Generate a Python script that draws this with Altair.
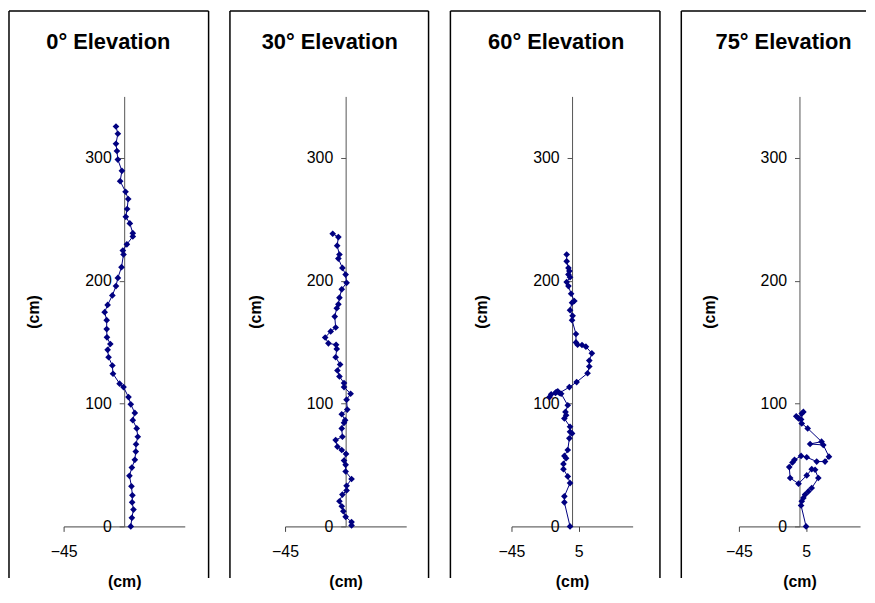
import altair as alt
import pandas as pd

TITLES = ["0° Elevation", "30° Elevation", "60° Elevation", "75° Elevation"]
X_TICKS = [[-45], [-45], [-45, 5], [-45, 5]]
Y_TICKS = [0, 100, 200, 300]

# horizontal offset (cm), height (cm) - ordered from bottom to top
P1_X = [4.9, 5.7, 6.9, 5.9, 6.1, 5.4, 3.9, 5.7, 7.9, 8.6, 8.8, 10.1, 9.3, 6.4, 7.9, 4.9, 3.2, -0.5, -3.4, -8.3,
        -8.8, -11.6, -12.3, -10.3, -12.8, -13.0, -13.0, -14.5, -12.3, -8.8, -6.1, -4.7, -2.0, -0.5, -1.0, 2.0,
        6.4, 6.4, 4.2, 1.2, 2.2, 3.0, 1.0, -3.0, -1.7, -4.7, -5.4, -6.1, -4.7, -6.1]
P1_Y = [0, 7, 13.7, 19.6, 25.3, 32.6, 41.2, 47.9, 54.2, 60.9, 66.9, 73, 79.8, 86.5, 92.4, 99.4, 105.3, 113.4,
        116.2, 124.3, 131, 137.7, 143.7, 148.5, 153.9, 160.6, 167.9, 174.4, 180.3, 188, 195.6, 202.3, 211,
        221.3, 224.5, 229.6, 236, 238.7, 246.6, 252, 258.4, 266.5, 272.4, 281, 289.4, 298.6, 305.6, 311.5,
        319.6, 325.5]

P2_X = [4.4, 4.4, 0.0, -1.7, -2.9, -4.6, -2.4, 0.7, 0.7, 4.4, 0.0, 0.0, -1.2, 0.3, -2.9, -6.1, -7.4, -2.4,
        -2.9, -1.2, -0.4, -2.9, 1.2, 0.7, 3.7, -1.2, -1.2, -4.6, -6.1, -4.1, -7.4, -6.6, -7.1, -12.8, -15.2,
        -11.1, -7.4, -8.1, -6.6, -5.4, -4.6, -2.9, 0.7, 0.0, -2.4, -5.4, -4.6, -6.3, -5.4, -9.6]
P2_Y = [0.8, 3.5, 7.8, 12.4, 16.4, 20.5, 25.9, 29.3, 33.1, 38.6, 44.7, 50.1, 53.6, 59, 62.2, 64.9, 70.3, 73,
        79.8, 84.3, 86.5, 91.3, 95.1, 103.2, 108, 113.4, 116.7, 122.1, 126.9, 131.8, 137.7, 144.5, 147.9, 149,
        153.8, 158.7, 161.9, 170.8, 177.6, 180.8, 186.2, 193, 198.3, 205, 210.4, 218, 221.3, 228.5, 235.5,
        238.2]

P3_X = [-1.5, -5.7, -5.7, -1.5, -3.2, -6.4, -6.4, -4.4, -5.7, -3.2, -2.0, 0.0, -1.5, -1.5, -5.7, -4.4, -4.9,
        -3.2, -8.1, -10.6, -12.3, -16.7, -15.5, -11.8, -9.4, -2.0, 3.4, 11.5, 12.8, 12.8, 14.7, 10.3, 7.4, 4.1,
        2.9, 2.9, 0.0, 0.4, -1.5, 0.0, 1.7, -0.7, -2.7, -4.0, -1.5, -2.7, -2.0, -2.7, -4.0, -4.0]
P3_Y = [0, 19.6, 24.5, 35.3, 40.7, 46.6, 50.9, 55.5, 57.4, 62.2, 71.7, 75.7, 77, 81.1, 87.9, 90.5, 93.2, 98.6,
        108, 109.9, 108.6, 105.3, 107.5, 109.4, 108.6, 113.4, 117.5, 124.7, 130.2, 135, 140.9, 146.3, 147.7,
        147.9, 149.8, 156.6, 167.9, 171.4, 176, 182.1, 183.5, 189.4, 195.6, 198.9, 202.9, 205.1, 207.8, 210.4,
        215.8, 221.3]

P4_X = [4.9, 1.2, 1.7, 2.9, 4.2, 6.6, 9.1, 14.0, 11.6, 9.1, 5.4, -0.7, -6.9, -7.6, -5.2, -3.7, 1.2, 5.4, 12.8,
        19.0, 21.9, 17.7, 7.9, 16.4, 6.1, 1.7, 1.2, 2.9, 1.7, -0.7, -2.4]
P4_Y = [0, 17, 20.5, 23.2, 25.9, 28.5, 31.3, 39.4, 46.1, 46.6, 41.5, 34.8, 39.4, 48.3, 52.0, 54.2, 57.4, 56.3,
        52.8, 52.8, 56.8, 66.3, 67.1, 69.0, 79.8, 83.8, 87.1, 93.2, 91.9, 87.9, 89.7]

XS = [P1_X, P2_X, P3_X, P4_X]
YS = [P1_Y, P2_Y, P3_Y, P4_Y]

NAVY = "#000080"
FONT = "Liberation Sans"
W, H = 122, 433
AXIS_PX = 61           # pixel position of x=0 inside the plot
FRAME_L = [-55, -55.5, -61.5, -58]
FRAME_R = [146, 144.5, 149.5, None]
LAST_TOP_END = 128
FRAME_TOP, FRAME_BOT = -86, 485


def panel(i):
    df = pd.DataFrame({"x": XS[i], "y": YS[i], "i": list(range(len(XS[i])))})
    x_enc = alt.X("x:Q", scale=alt.Scale(domain=[-45, 45], nice=False, zero=False),
                  axis=alt.Axis(values=X_TICKS[i], tickSize=5, labelPadding=12, labelFontSize=16,
                                labelFont=FONT, labelColor="black", labelFlush=False, labelOverlap=False,
                                domainColor="#444", tickColor="#444", grid=False,
                                title="(cm)", titleFont=FONT, titleFontSize=16, titleFontWeight="bold",
                                titleColor="black", titleY=56, titleBaseline="middle"))
    y_enc = alt.Y("y:Q", scale=alt.Scale(domain=[0, 350], nice=False),
                  axis=alt.Axis(values=Y_TICKS, offset=-AXIS_PX, tickSize=5, labelPadding=8,
                                labelFontSize=16, labelFont=FONT, labelColor="black", labelFlush=False,
                                labelOverlap=False, domainColor="#555", tickColor="#555", grid=False,
                                title="(cm)", titleFont=FONT, titleFontSize=16, titleFontWeight="bold",
                                titleColor="black", titleX=-91, titleY=H / 2, titleAngle=-90,
                                titleBaseline="middle", titleAlign="center"))
    base = alt.Chart(df)
    line = base.mark_line(color=NAVY, strokeWidth=1).encode(x=x_enc, y=y_enc, order="i:Q")
    pts = base.mark_point(shape="diamond", filled=True, size=45, color=NAVY, opacity=1).encode(x=x_enc, y=y_enc)

    tdf = pd.DataFrame({"t": [TITLES[i]]})
    tb = alt.Chart(tdf)
    title = tb.mark_text(font=FONT, fontSize=22, fontWeight="bold", color="black",
                         baseline="alphabetic", align="center").encode(
        text="t:N", x=alt.value(45), y=alt.value(-48))
    L = FRAME_L[i]
    R = FRAME_R[i]
    frame = [
        tb.mark_rule(color="black", strokeWidth=1.5).encode(
            x=alt.value(L), y=alt.value(FRAME_TOP), y2=alt.value(FRAME_BOT)),
        tb.mark_rule(color="black", strokeWidth=1.5).encode(
            x=alt.value(L), x2=alt.value(R if R is not None else LAST_TOP_END), y=alt.value(FRAME_TOP)),
    ]
    if R is not None:
        frame.append(tb.mark_rule(color="black", strokeWidth=1.5).encode(
            x=alt.value(R), y=alt.value(FRAME_TOP), y2=alt.value(FRAME_BOT)))
    return alt.layer(line, pts, title, *frame).properties(width=W, height=H)


chart = alt.hconcat(*[panel(i) for i in range(4)], spacing=19).properties(
    padding=0, background="white"
).configure_view(stroke=None)

chart.save("out.html", embed_options={"renderer": "svg", "actions": False})
